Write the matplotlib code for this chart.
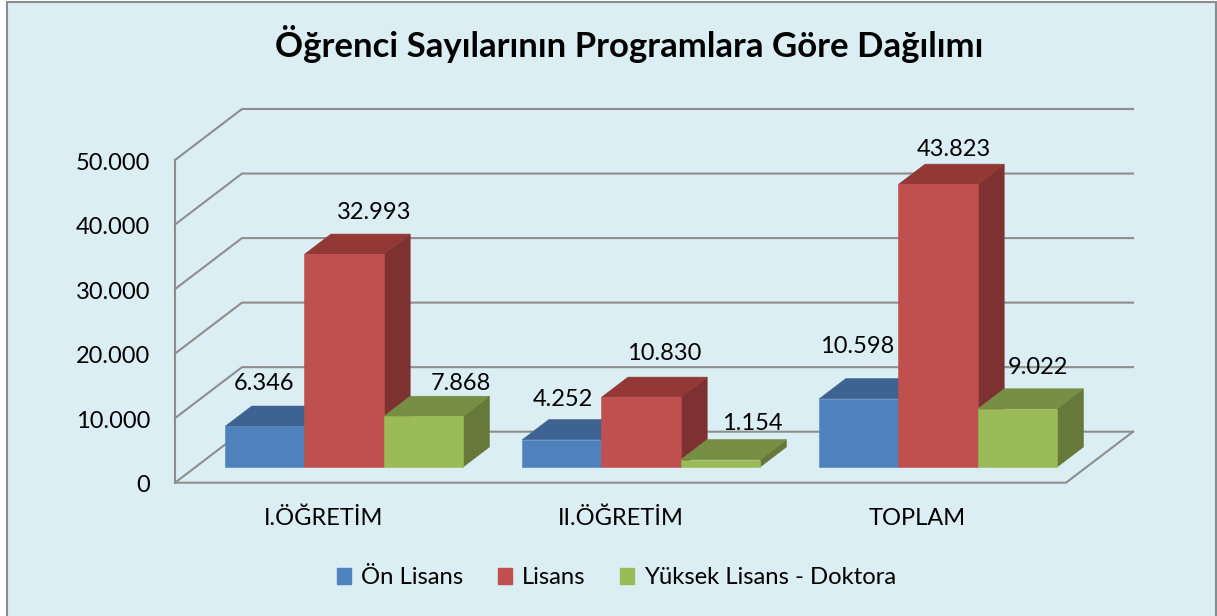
import matplotlib
matplotlib.use("Agg")
import matplotlib.pyplot as plt
from matplotlib.patches import Polygon, Rectangle
from matplotlib.transforms import ScaledTranslation

categories = ["I.ÖĞRETİM", "II.ÖĞRETİM", "TOPLAM"]
on_lisans = [6346, 4252, 10598]
lisans = [32993, 10830, 43823]
yuksek = [7868, 1154, 9022]
series_names = ["Ön Lisans", "Lisans", "Yüksek Lisans - Doktora"]
value_ticks = [0, 10000, 20000, 30000, 40000, 50000]
tick_labels = ["0", "10.000", "20.000", "30.000", "40.000", "50.000"]

plt.rcParams["font.family"] = ["Lato", "DejaVu Sans"]
W, H = 1217, 616
BG = "#DBEEF4"
GRID = "#8E8E8E"
fig = plt.figure(figsize=(W / 100, H / 100), dpi=100, facecolor="white")
fig.add_artist(Rectangle((7 / W, -0.01), (1216 - 7) / W, 1.01 - 2.5 / H,
                         transform=fig.transFigure, facecolor=BG,
                         edgecolor="#8C8C8C", lw=1.5, zorder=-1))
Y0, YT = 482.7, 160
ax = fig.add_axes([175 / W, 1 - Y0 / H, (1066 - 175) / W, (Y0 - YT) / H])
ax.set_xlim(0, 3)
ax.set_ylim(0, 50000)
ax.patch.set_alpha(0)
for s in ax.spines.values():
    s.set_visible(False)

PXX = 3 / (1066 - 175)       # x data per pixel
PXY = 50000 / (Y0 - YT)      # y data per pixel
DX, DY = 67 * PXX, 51 * PXY  # full floor depth in data units


def p(x, y, d):
    return (x + d * DX, y + d * DY)


lw = 1.5
for v in value_ticks:
    ax.plot(*zip(p(0, v, 0), p(0, v, 1), p(3, v, 1)), color=GRID, lw=lw,
            clip_on=False, zorder=1, solid_joinstyle="miter")
ax.plot(*zip(p(0, 50000, 0), p(0, 0, 0), p(3, 0, 0), p(3, 0, 1)), color=GRID,
        lw=lw, clip_on=False, zorder=1, solid_joinstyle="miter")

styles = [("#4F81BD", "#3E6390", "#37577F"),
          ("#C0504D", "#923936", "#7D3130"),
          ("#9BBB59", "#778E45", "#66793A")]
series = [on_lisans, lisans, yuksek]
BW = 79.2 * PXX
D0, D1 = 0.304, 0.70
SHIFT = 0.2 * PXX

# label offsets in pixels from the top centre of each bar's front face
label_off = [[(-1, 43), (1, 40), (-1.5, 52)],
             [(30, 41.5), (23, 44), (16, 35)],
             [(37.5, 32.5), (31.5, 36), (21, 41.5)]]

z = 2
for g in range(3):
    for k, (vals, st) in enumerate(zip(series, styles)):
        v = vals[g]
        x0 = g + 0.5 + (k - 1.5) * BW + SHIFT
        x1 = x0 + BW
        front = [p(x0, 0, D0), p(x1, 0, D0), p(x1, v, D0), p(x0, v, D0)]
        top = [p(x0, v, D0), p(x1, v, D0), p(x1, v, D1), p(x0, v, D1)]
        side = [p(x1, 0, D0), p(x1, 0, D1), p(x1, v, D1), p(x1, v, D0)]
        for pts, c in ((side, st[2]), (top, st[1]), (front, st[0])):
            ax.add_patch(Polygon(pts, closed=True, facecolor=c, edgecolor=c,
                                 lw=0.4, clip_on=False, zorder=z))
        z += 1

for g in range(3):
    for k, vals in enumerate(series):
        v = vals[g]
        xc = g + 0.5 + (k - 1) * BW + SHIFT
        ax.annotate(f"{v:,}".replace(",", "."), xy=p(xc, v, D0),
                    xytext=label_off[k][g], textcoords="offset pixels",
                    ha="center", va="center", fontsize=17, color="black",
                    zorder=50, annotation_clip=False)

ax.set_xticks([i + 0.5 for i in range(3)], categories)
ax.set_yticks(value_ticks, tick_labels)
ax.tick_params(axis="x", length=0, pad=18, labelsize=17)
ax.tick_params(axis="y", length=0, pad=18, labelsize=17)
down = ScaledTranslation(0, -1 / 100, fig.dpi_scale_trans)
for t in ax.get_yticklabels():
    t.set_transform(t.get_transform() + down)

fig.text(629 / W, 1 - 44 / H, "Öğrenci Sayılarının Programlara Göre Dağılımı",
         ha="center", va="center", fontsize=25, fontweight="bold", color="black")

handles = [Rectangle((0, 0), 1, 1, facecolor=st[0], edgecolor=st[0]) for st in styles]
fig.legend(handles, series_names, ncol=3, loc="center",
           bbox_to_anchor=(616.5 / W, 1 - 578 / H), frameon=False, fontsize=17.2,
           handlelength=0.6, handleheight=0.6, handletextpad=0.4,
           columnspacing=1.45, borderpad=0)

fig.savefig("out.png", dpi=100, facecolor="white")
